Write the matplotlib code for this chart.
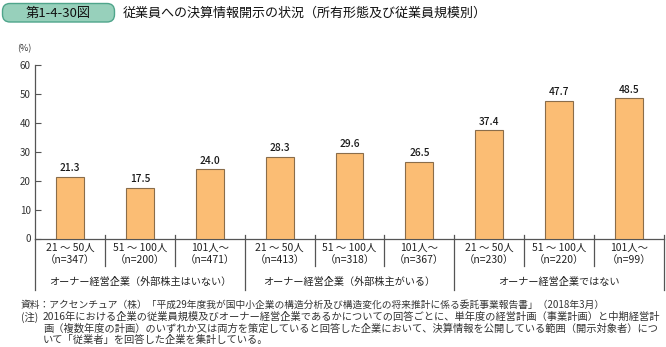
import matplotlib
matplotlib.use("Agg")
import matplotlib.pyplot as plt
from matplotlib.patches import FancyBboxPatch

plt.rcParams['font.family'] = ['Noto Sans CJK JP', 'DejaVu Sans']

# ---- data ----
size_labels = ["21 ～ 50人", "51 ～ 100人", "101人～",
               "21 ～ 50人", "51 ～ 100人", "101人～",
               "21 ～ 50人", "51 ～ 100人", "101人～"]
n_labels = ["（n=347）", "（n=200）", "（n=471）",
            "（n=413）", "（n=318）", "（n=367）",
            "（n=230）", "（n=220）", "（n=99）"]
values = [21.3, 17.5, 24.0, 28.3, 29.6, 26.5, 37.4, 47.7, 48.5]
group_labels = ["オーナー経営企業（外部株主はいない）",
                "オーナー経営企業（外部株主がいる）",
                "オーナー経営企業ではない"]
y_ticks = [0, 10, 20, 30, 40, 50, 60]

badge_text = "第1-4-30図"
title_text = "従業員への決算情報開示の状況（所有形態及び従業員規模別）"
notes = [
    ("資料：アクセンチュア（株）「平成29年度我が国中小企業の構造分析及び構造変化の将来推計に係る委託事業報告書」（2018年3月）", 21, 7.0),
    ("(注)", 21, 7.4),
    ("2016年における企業の従業員規模及びオーナー経営企業であるかについての回答ごとに、単年度の経営計画（事業計画）と中期経営計", 43, 7.4),
    ("画（複数年度の計画）のいずれか又は両方を策定していると回答した企業において、決算情報を公開している範囲（開示対象者）につ", 43, 7.4),
    ("いて「従業者」を回答した企業を集計している。", 43, 7.4),
]
note_y = [305, 317, 317, 328.5, 340]

W, H = 666, 347
fig = plt.figure(figsize=(W / 100, H / 100), dpi=100)

y0_px, y60_px = 238.5, 65.0
ax_left, ax_right = 35.0, 664.0
ax = fig.add_axes([ax_left / W, (H - y0_px) / H, (ax_right - ax_left) / W, (y0_px - y60_px) / H])

def ay(ypx):
    return (y0_px - ypx) / (y0_px - y60_px)

x = list(range(len(values)))
ax.bar(x, values, width=0.4, color='#FBBD74', edgecolor='#8A6D4A', linewidth=0.8, zorder=3)
for xi, v in zip(x, values):
    ax.annotate(f"{v:.1f}", (xi, v), xytext=(0, 2.5), textcoords='offset points',
                ha='center', va='bottom', fontsize=7.3, color='#1a1a1a', fontweight='medium')

ax.set_xlim(-0.5, len(values) - 0.5)
ax.set_ylim(0, 60)
ax.set_yticks(y_ticks)
ax.set_yticklabels([str(t) for t in y_ticks], fontsize=7, color='#333333')
ax.tick_params(axis='y', direction='in', length=4, width=0.8, color='#555555', pad=3)
ax.set_xticks([])
for s in ['top', 'right']:
    ax.spines[s].set_visible(False)
for s in ['left', 'bottom']:
    ax.spines[s].set_color('#555555')
    ax.spines[s].set_linewidth(0.9)

tr = ax.get_xaxis_transform()
# small separators between categories
for b in [0.5, 1.5, 3.5, 4.5, 6.5, 7.5]:
    ax.plot([b, b], [ay(235), ay(266)], transform=tr, color='#555555', lw=0.9, clip_on=False)
# group separators
for b in [-0.5, 2.5, 5.5, 8.5]:
    ax.plot([b, b], [ay(235) if b > -0.5 else 0, ay(290)], transform=tr, color='#555555', lw=0.9, clip_on=False)

for xi, (s, n) in enumerate(zip(size_labels, n_labels)):
    ax.text(xi, ay(248), s, transform=tr, ha='center', va='center', fontsize=7.5, color='#222222')
    ax.text(xi, ay(260), n, transform=tr, ha='center', va='center', fontsize=7.5, color='#222222')
for gi, g in enumerate(group_labels):
    ax.text(gi * 3 + 1, ay(282), g, transform=tr, ha='center', va='center', fontsize=7.3, color='#222222')

fig.text(24 / W, 1 - 49 / H, "(%)", ha='center', va='center', fontsize=6.5, color='#333333')

# title badge
badge = FancyBboxPatch((2.5 / 100, (H - 22) / 100), 112 / 100, 18.5 / 100,
                       boxstyle="round,pad=0,rounding_size=0.075",
                       transform=fig.dpi_scale_trans, facecolor='#97D0BB',
                       edgecolor='#4FA58B', linewidth=1.0)
fig.add_artist(badge)
fig.text(58 / W, 1 - 13 / H, badge_text, ha='center', va='center', fontsize=9.5, color='#111111')
fig.text(123 / W, 1 - 13 / H, title_text, ha='left', va='center', fontsize=9.4, color='#111111')

for (t, xp, fs), yp in zip(notes, note_y):
    fig.text(xp / W, 1 - yp / H, t, ha='left', va='center', fontsize=fs, color='#333333')

fig.savefig("out.png", dpi=100)
